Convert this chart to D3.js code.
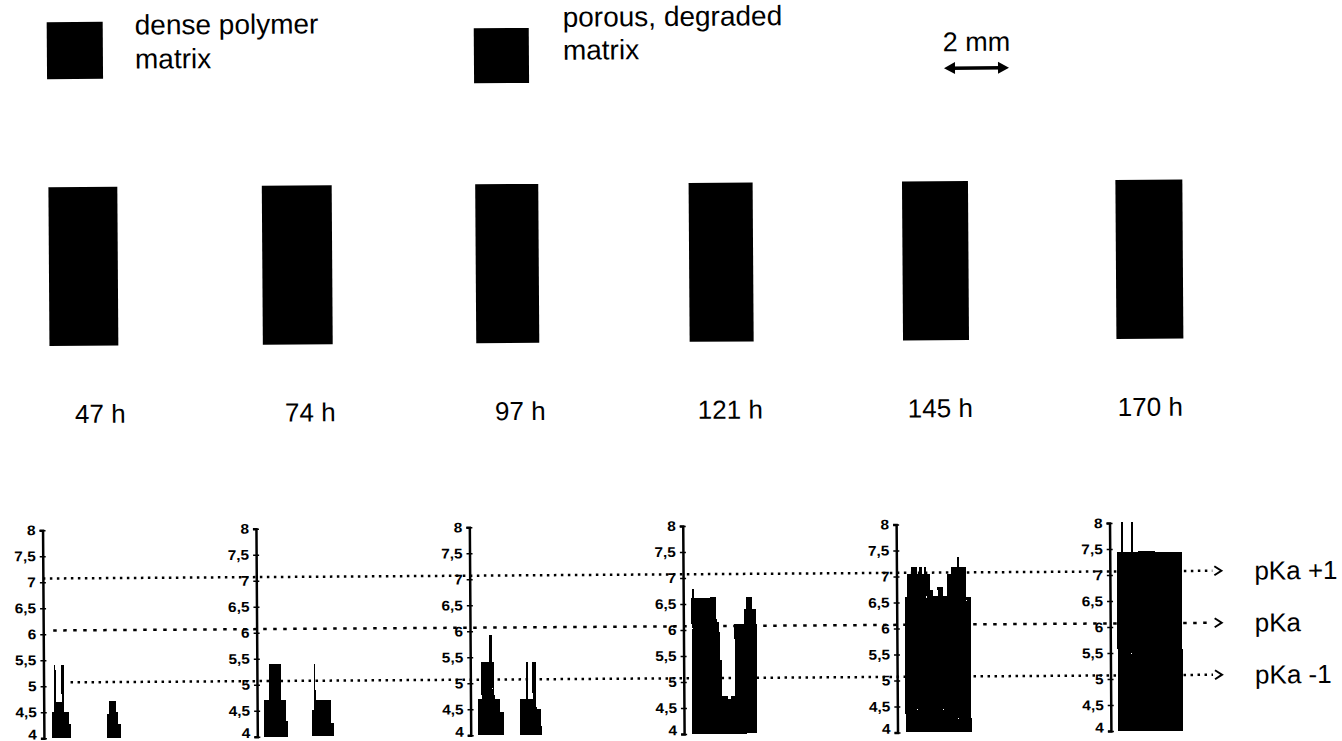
<!DOCTYPE html>
<html>
<head>
<meta charset="utf-8">
<script src="https://cdn.jsdelivr.net/npm/d3@7"></script>
<style>
  body { margin: 0; background: #fff; }
  text { font-family: "Liberation Sans", Arial, sans-serif; fill: #000; }
</style>
</head>
<body>
<svg id="chart" width="1342" height="741"></svg>
<script>
// incubation times
const times = ["47 h", "74 h", "97 h", "121 h", "145 h", "170 h"];

// sample size seen in the images (mm)
const sampleWidth = [2.12, 2.15, 1.94, 1.97, 2.03, 2.06];
const sampleHeight = 4.89;
const scaleBarMm = 2;

// pH profile across each sample: [from mm, to mm, pH]
const profile47 = [
  [0.25, 0.31, 4.5], [0.31, 0.37, 5.4], [0.37, 0.55, 4.7], [0.55, 0.62, 5.4],
  [0.62, 0.77, 4.5], [0.77, 0.83, 4.27],
  [1.94, 2.0, 4.45], [2.0, 2.22, 4.7], [2.22, 2.28, 4.5], [2.28, 2.37, 4.27]
];
const profile74 = [
  [0.22, 0.37, 4.7], [0.37, 0.74, 5.4], [0.74, 0.89, 4.7], [0.89, 0.95, 4.3],
  [1.69, 1.75, 4.5], [1.75, 1.8, 5.4], [1.8, 2.28, 4.7], [2.28, 2.37, 4.25]
];
const profile97 = [
  [0.22, 0.34, 4.7], [0.34, 0.58, 5.4], [0.58, 0.68, 5.92], [0.68, 0.74, 5.4],
  [0.74, 0.92, 4.7], [0.92, 1.02, 4.45],
  [1.51, 1.72, 4.7], [1.72, 1.78, 5.4], [1.78, 1.91, 4.7], [1.91, 2.03, 5.4],
  [2.03, 2.18, 4.5]
];
const profile121 = [
  [0.25, 0.28, 6.62], [0.28, 0.34, 6.79], [0.34, 1.02, 6.62], [1.02, 1.11, 6.15],
  [1.11, 1.17, 5.42], [1.17, 1.35, 4.72], [1.35, 1.45, 4.66], [1.45, 1.57, 4.72],
  [1.57, 1.88, 6.1], [1.88, 1.94, 6.4], [1.94, 2.12, 6.62], [2.12, 2.25, 6.4]
];
const profile145 = [
  [0.25, 0.31, 6.6], [0.31, 0.46, 7.04], [0.46, 0.62, 7.18], [0.62, 0.68, 7.04],
  [0.68, 0.8, 7.18], [0.8, 0.86, 7.04], [0.86, 0.92, 7.18], [0.92, 1.02, 7.04],
  [1.02, 1.11, 6.74], [1.11, 1.26, 6.62], [1.26, 1.42, 6.8], [1.42, 1.54, 6.62],
  [1.54, 1.69, 7.04], [1.69, 1.88, 7.18], [1.88, 1.94, 7.36], [1.94, 2.15, 7.18],
  [2.15, 2.28, 6.59]
];
const profile170 = [
  [0.22, 0.34, 7.45], [0.34, 0.4, 8.02], [0.4, 0.65, 7.45], [0.65, 0.71, 8.02],
  [0.71, 1.38, 7.45], [1.38, 2.22, 7.43]
];
const profiles = [profile47, profile74, profile97, profile121, profile145, profile170];

const pKa = 6.07;
const refLines = ["pKa +1", "pKa", "pKa -1"];
const refValues = [pKa + 1, pKa, pKa - 1];
const yTicks = [4, 4.5, 5, 5.5, 6, 6.5, 7, 7.5, 8];

const legendLabels = [["dense polymer", "matrix"], ["porous, degraded", "matrix"]];

// ---- drawing
const svg = d3.select("#chart");
svg.append("rect").attr("width", 1342).attr("height", 741).attr("fill", "#fff");
// the scanned figure is slightly tilted
const g = svg.append("g").attr("transform", "rotate(-0.38 671 370)");

const panelX = d3.scalePoint().domain(times).range([41.5, 1108.5]);
const labelX = d3.scalePoint().domain(times).range([100, 1150]);
const mm = d3.scaleLinear().domain([0, 1]).range([0, 32.5]);
const y = d3.scaleLinear().domain([4, 8]).range([734, 526]);

function txt(parent, x, yy, str, size, anchor, sx, weight) {
  return parent.append("text")
    .attr("transform", `translate(${x},${yy}) scale(${sx || 1},1)`)
    .attr("font-size", size)
    .attr("font-weight", weight || "normal")
    .attr("text-anchor", anchor || "start")
    .text(str);
}

// legend
const legendPos = [{ x: 49, y: 18, w: 56, h: 57, tx: 137, ty: [31, 65] },
                   { x: 476, y: 27, w: 55, h: 55, tx: 565, ty: [26, 59] }];
legendLabels.forEach((lines, i) => {
  const p = legendPos[i];
  g.append("rect").attr("x", p.x).attr("y", p.y).attr("width", p.w).attr("height", p.h).attr("fill", "#000");
  lines.forEach((l, j) => txt(g, p.tx, p.ty[j], l, 28));
});

// scale bar
const barX0 = 946, barY = 70;
txt(g, barX0 + mm(scaleBarMm) / 2, 53, scaleBarMm + " mm", 27, "middle");
g.append("line").attr("x1", barX0 + 6).attr("x2", barX0 + mm(scaleBarMm) - 6)
  .attr("y1", barY).attr("y2", barY).attr("stroke", "#000").attr("stroke-width", 3.5);
g.append("path")
  .attr("d", `M${barX0},${barY} l11,-6 v12 Z M${barX0 + mm(scaleBarMm)},${barY} l-11,-6 v12 Z`)
  .attr("fill", "#000");

// sample images
g.selectAll("rect.sample").data(times).join("rect")
  .attr("class", "sample")
  .attr("x", d => panelX(d) + mm(0.25))
  .attr("y", 183)
  .attr("width", (d, i) => mm(sampleWidth[i]))
  .attr("height", mm(sampleHeight))
  .attr("fill", "#000");

times.forEach(t => txt(g, labelX(t), 419, t, 26, "middle"));

// pKa reference lines
const lineStyle = [{ start: 0, dash: "2.5,4.5" }, { start: 10, dash: "3.5,6.5" }, { start: 27, dash: "2.5,4.5" }];
const lineEnd = 1211;
refValues.forEach((v, i) => {
  const yy = y(v);
  g.append("line")
    .attr("x1", panelX(times[0]) + lineStyle[i].start).attr("x2", lineEnd)
    .attr("y1", yy).attr("y2", yy)
    .attr("stroke", "#000").attr("stroke-width", 2.5)
    .attr("stroke-dasharray", lineStyle[i].dash);
  g.append("path")
    .attr("d", `M${lineEnd + 2},${yy - 4.5} L${lineEnd + 9},${yy} L${lineEnd + 2},${yy + 4.5}`)
    .attr("fill", "none").attr("stroke", "#000").attr("stroke-width", 2);
  txt(g, 1253, yy + 9, refLines[i], 26);
});

// pH profiles
const fmt = d => d3.format(".1~f")(d).replace(".", ",");
times.forEach((t, i) => {
  const panel = g.append("g").attr("transform", `translate(${panelX(t)},0)`);
  panel.selectAll("rect").data(profiles[i]).join("rect")
    .attr("x", d => mm(d[0]))
    .attr("width", d => mm(d[1] - d[0]))
    .attr("y", d => y(d[2]))
    .attr("height", d => y(4) - y(d[2]))
    .attr("fill", "#000")
    .attr("shape-rendering", "crispEdges");

  const ax = panel.append("g")
    .call(d3.axisLeft(y).tickValues(yTicks).tickSize(3).tickSizeOuter(3).tickPadding(4).tickFormat(fmt));
  ax.select(".domain").attr("stroke-width", 2.5);
  ax.selectAll(".tick line").attr("x1", 3).attr("stroke-width", 1.5);
  ax.selectAll(".tick text")
    .attr("font-size", 14).attr("font-weight", "bold")
    .attr("font-family", "'Liberation Sans', Arial, sans-serif")
    .attr("transform", "scale(1.1,1)").attr("x", -7 / 1.1)
    .attr("dy", d => d === 4 ? "0.05em" : "0.32em");
});
</script>
</body>
</html>
